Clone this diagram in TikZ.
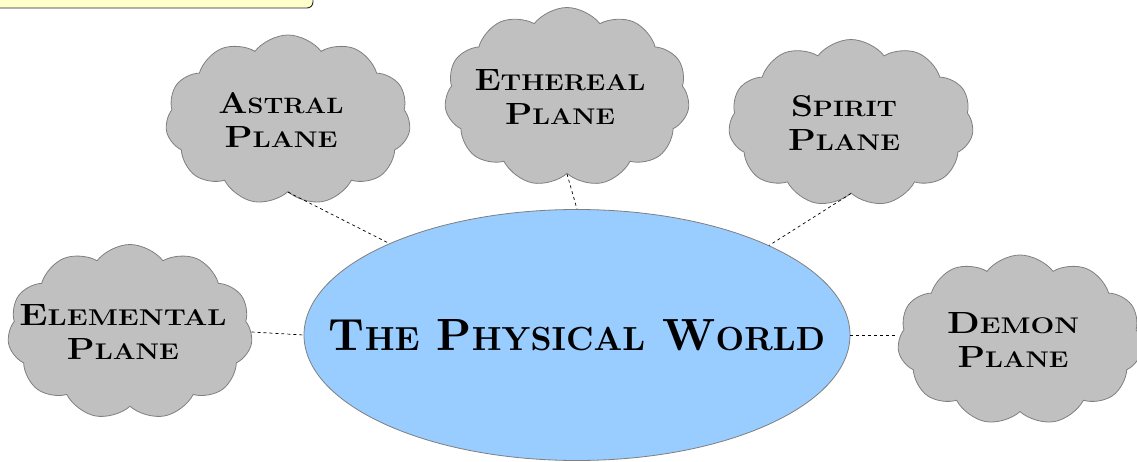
\documentclass[tikz,border=0pt]{standalone}
\usepackage{fontspec}
\usepackage{graphicx}
\usetikzlibrary{shapes.symbols,shapes.geometric}
\definecolor{cloudfill}{HTML}{C0C0C0}
\definecolor{cloudline}{HTML}{7F7F7F}
\definecolor{worldfill}{HTML}{99CCFF}
\definecolor{noteyellow}{HTML}{FFFFCC}
\newcommand\lc[1]{\scalebox{0.74}{#1}}
\newcommand\fitline[3]{\makebox[0pt][c]{\resizebox{#1}{#2}{\bfseries #3}}}
\newcommand\cloudline[3]{\makebox[0pt][c]{\resizebox{#1}{#2}{\bfseries #3}\hspace{14pt}}}
\tikzset{
  plane/.style={cloud, cloud puffs=11, cloud puff arc=105, cloud ignores aspect,
    draw=cloudline, fill=cloudfill, line width=0.8pt, inner sep=0pt,
    minimum width=245pt, minimum height=170pt, align=center,
    font=\fontsize{20}{34}\selectfont},
  link/.style={dashed, dash pattern=on 3pt off 3pt, line width=0.7pt, black},
}
\begin{document}
\begin{tikzpicture}[x=1pt,y=-1pt]
\clip (0,0) rectangle (1137,462);
\draw[fill=noteyellow, draw=black!85, line width=0.9pt, rounded corners=6pt] (-20,-40) rectangle (313,8);
\node[ellipse, draw=cloudline, fill=worldfill, line width=0.8pt,
  minimum width=546pt, minimum height=251pt, inner sep=0pt] (world) at (577,335)
  {\fitline{496pt}{31pt}{T\lc{HE} P\lc{HYSICAL} W\lc{ORLD}}};
\node[plane] (astral) at (288,120)
  {\cloudline{125pt}{21pt}{A\lc{STRAL}}\\\cloudline{113pt}{21pt}{P\lc{LANE}}};
\node[plane, minimum height=179pt] (ethereal) at (567,97)
  {\cloudline{171pt}{21pt}{E\lc{THEREAL}}\\\cloudline{110pt}{21pt}{P\lc{LANE}}};
\node[plane, minimum height=167pt] (spirit) at (851,123)
  {\cloudline{106pt}{21pt}{S\lc{PIRIT}}\\\cloudline{112pt}{21pt}{P\lc{LANE}}};
\node[plane, minimum height=175pt] (elemental) at (130,332)
  {\cloudline{207pt}{21pt}{E\lc{LEMENTAL}}\\\cloudline{112pt}{21pt}{P\lc{LANE}}};
\node[plane] (demon) at (1020,340)
  {\cloudline{132pt}{21pt}{D\lc{EMON}}\\\cloudline{111pt}{21pt}{P\lc{LANE}}};
\draw[link] (astral.south) -- (world.154);
\draw[link] (ethereal.south) -- (world.north);
\draw[link] (spirit.south) -- (world.25);
\draw[link] (elemental.east) -- (world.west);
\draw[link] (world.east) -- (world.east -| demon.west);
\end{tikzpicture}
\end{document}
